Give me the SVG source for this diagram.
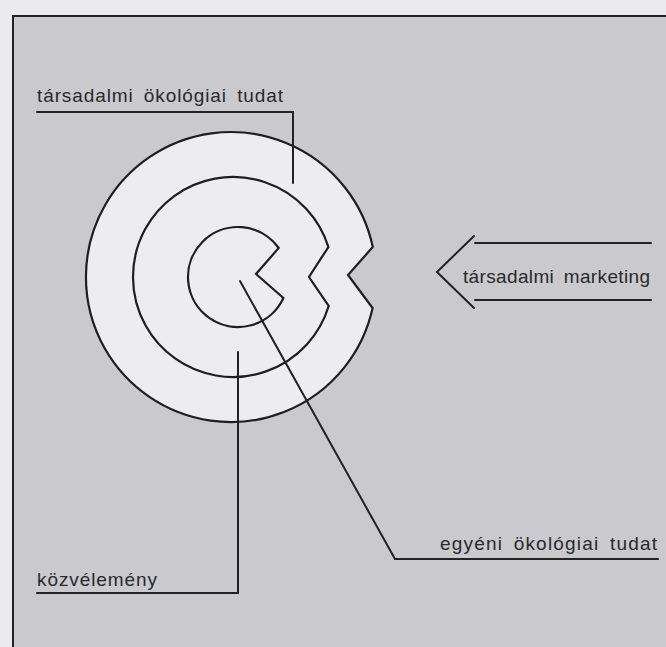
<svg xmlns="http://www.w3.org/2000/svg" width="666" height="647" viewBox="0 0 666 647">
<style>
.ln{fill:none;stroke:#222;stroke-width:2;stroke-linecap:round;stroke-linejoin:miter}
.lb{font-family:"Liberation Sans",Arial,sans-serif;font-size:19px;fill:#2a2a2a;word-spacing:4px}
.ring{fill:none;stroke:#1e1e1e;stroke-width:2.2}
</style>
<rect x="0" y="0" width="666" height="647" fill="#ececf0"/>
<rect x="13" y="16" width="653" height="631" fill="#c9c9ce"/>
<g id="frame">
<polyline class="ln" points="13,647 13,16 666,16" stroke-width="2.5"/>
</g>
<g id="rings">
<path id="outer" d="M372.8,247 A145,145 0 1 0 372.6,308 L348,275 Z" fill="#ececf1" stroke="#1e1e1e" stroke-width="2.2" stroke-linejoin="miter"/>
<path id="middle" class="ring" d="M328.4,247 A100,100 0 1 0 328.7,306 L309,277 Z"/>
<path id="inner" class="ring" d="M278.7,248 A50,50 0 1 0 283.4,298 L256,274 Z"/>
</g>
<g id="connectors">
<polyline class="ln" points="37,112 293,112 293,183"/>
<polyline class="ln" points="37,593 238,593 238,352"/>
<polyline class="ln" points="240,281 395,559 658,559"/>
</g>
<g id="arrow">
<polyline class="ln" points="474,236 437,272 474,308"/>
<line class="ln" x1="475" y1="243" x2="651" y2="243"/>
<line class="ln" x1="475" y1="300" x2="651" y2="300"/>
<text class="lb" x="463" y="283" textLength="187" lengthAdjust="spacing">társadalmi marketing</text>
</g>
<g id="label-tarsadalmi">
<text class="lb" x="37" y="102" textLength="246" lengthAdjust="spacing">társadalmi ökológiai tudat</text>
</g>
<g id="label-kozvelemeny">
<text class="lb" x="37" y="586" textLength="120" lengthAdjust="spacing">közvélemény</text>
</g>
<g id="label-egyeni">
<text class="lb" x="440" y="550" textLength="217" lengthAdjust="spacing">egyéni ökológiai tudat</text>
</g>
</svg>
